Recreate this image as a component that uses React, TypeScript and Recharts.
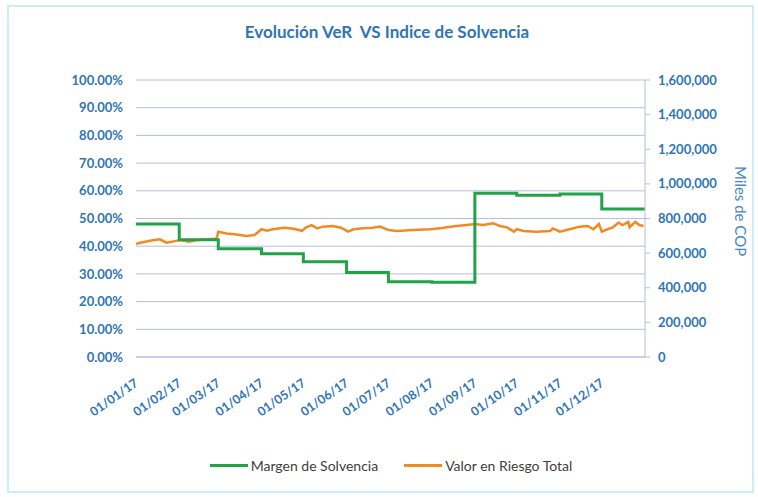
import React from 'react';
import { LineChart, Line, XAxis, YAxis, CartesianGrid, Legend } from 'recharts';

// month ticks (day of year 2017) and their labels
const monthStarts = [0, 31, 59, 90, 120, 151, 181, 212, 243, 273, 304, 334];
const monthLabels = [
  '01/01/17', '01/02/17', '01/03/17', '01/04/17', '01/05/17', '01/06/17',
  '01/07/17', '01/08/17', '01/09/17', '01/10/17', '01/11/17', '01/12/17',
];

// Margen de Solvencia (%), changes on the first of each month
const solvencyDays = [0, 31, 59, 90, 120, 151, 181, 212, 243, 273, 304, 334, 365];
const solvencyPct = [48.0, 42.3, 39.1, 37.3, 34.4, 30.5, 27.2, 27.0, 59.1, 58.4, 58.8, 53.4, 53.4];

// Valor en Riesgo Total (Miles de COP)
const riskDays = [
  0, 3, 10, 17, 22, 27, 32, 38, 44, 51, 57, 58, 59, 65, 72, 79, 85, 90, 94, 98,
  106, 113, 119, 122, 126, 130, 134, 141, 147, 152, 156, 163, 170, 175, 181, 187,
  199, 211, 218, 223, 230, 237, 243, 249, 256, 261, 266, 271, 273, 278, 287, 297,
  299, 304, 311, 318, 324, 328, 332, 334, 338, 342, 346, 349, 353, 354, 358, 361, 364,
];
const riskValues = [
  653000, 660000, 672000, 680000, 660000, 668000, 676000, 666000, 676000, 680000,
  683000, 690000, 724000, 714000, 708000, 699000, 705000, 738000, 729000, 738000,
  747000, 741000, 729000, 749000, 762000, 743000, 753000, 757000, 747000, 724000,
  738000, 743000, 747000, 753000, 734000, 728000, 734000, 738000, 743000, 749000,
  757000, 762000, 768000, 762000, 772000, 757000, 749000, 724000, 738000, 728000,
  724000, 728000, 743000, 724000, 738000, 753000, 757000, 738000, 768000, 724000,
  738000, 749000, 776000, 762000, 780000, 749000, 780000, 762000, 757000,
];

const pctTicks = [0, 10, 20, 30, 40, 50, 60, 70, 80, 90, 100];
const copTicks = [0, 200000, 400000, 600000, 800000, 1000000, 1200000, 1400000, 1600000];

const BLUE = '#2e75b6';
const GRID = '#b8bce0';
const FONT = 'Lato, "Open Sans", sans-serif';

const solvencyData = solvencyDays.map((d, i) => ({ day: d, pct: solvencyPct[i] }));
const riskData = riskDays.map((d, i) => ({ day: d, cop: riskValues[i] }));

const XTick = (props: any) => {
  const { x, y, payload } = props;
  const idx = monthStarts.indexOf(payload.value);
  const ax = x + 3;
  const ay = y + 28;
  return (
    <text
      x={ax}
      y={ay}
      transform={`rotate(-35, ${ax}, ${ay})`}
      textAnchor="end"
      fill={BLUE}
      fontSize={12.5}
      fontWeight={700}
      fontFamily={FONT}
    >
      {idx >= 0 ? monthLabels[idx] : ''}
    </text>
  );
};

const LegendBox = () => (
  <div
    style={{
      height: 60,
      display: 'flex',
      alignItems: 'center',
      justifyContent: 'center',
      paddingLeft: 24,
      fontFamily: FONT,
      fontSize: 14,
      color: '#404040',
    }}
  >
    <span style={{ display: 'inline-block', width: 38, height: 3, background: '#22a34a', marginRight: 3 }} />
    <span style={{ marginRight: 26 }}>Margen de Solvencia</span>
    <span style={{ display: 'inline-block', width: 38, height: 3, background: '#f28a24', marginRight: 3 }} />
    <span>Valor en Riesgo Total</span>
  </div>
);

const App: React.FC = () => {
  return (
    <div style={{ position: 'absolute', left: 0, top: 0, width: 758, height: 497, background: '#fff' }}>
      <div
        style={{
          position: 'absolute',
          left: 7,
          top: 5,
          width: 747,
          height: 488,
          border: '2px solid #c9eef7',
          boxSizing: 'border-box',
        }}
      />
      <div
        style={{
          position: 'absolute',
          top: 21,
          left: 0,
          width: 774,
          textAlign: 'center',
          whiteSpace: 'pre',
          fontFamily: FONT,
          fontWeight: 700,
          fontSize: 17,
          color: BLUE,
        }}
      >
        Evolución VeR  VS Indice de Solvencia
      </div>
      <div
        style={{
          position: 'absolute',
          left: 732,
          top: 166,
          writingMode: 'vertical-rl',
          fontFamily: FONT,
          fontSize: 15,
          color: '#4a86c5',
        }}
      >
        Miles de COP
      </div>
      <LineChart width={758} height={497} margin={{ top: 80, right: 0, bottom: 2, left: 0 }}>
        <CartesianGrid yAxisId="left" vertical={false} stroke={GRID} />
        <XAxis
          dataKey="day"
          type="number"
          domain={[0, 365]}
          ticks={monthStarts}
          interval={0}
          height={78}
          axisLine={{ stroke: GRID }}
          tickLine={false}
          tickSize={0}
          tickMargin={0}
          tick={XTick}
        />
        <YAxis
          yAxisId="left"
          width={136}
          domain={[0, 100]}
          ticks={pctTicks}
          interval={0}
          axisLine={false}
          tickLine={false}
          tickSize={0}
          tickMargin={13}
          tickFormatter={(v: number) => `${v.toFixed(2)}%`}
          tick={{ fill: BLUE, fontSize: 13, fontWeight: 700, fontFamily: FONT }}
        />
        <YAxis
          yAxisId="right"
          orientation="right"
          width={113}
          domain={[0, 1600000]}
          ticks={copTicks}
          interval={0}
          axisLine={{ stroke: GRID }}
          tickLine={{ stroke: GRID }}
          tickSize={5}
          tickMargin={8}
          tickFormatter={(v: number) => v.toLocaleString('en-US')}
          tick={{ fill: BLUE, fontSize: 13, fontWeight: 700, fontFamily: FONT, textAnchor: 'start' }}
        />
        <Legend verticalAlign="bottom" content={LegendBox} />
        <Line
          yAxisId="right"
          data={riskData}
          dataKey="cop"
          name="Valor en Riesgo Total"
          type="linear"
          stroke="#f28a24"
          strokeWidth={2.5}
          dot={false}
          isAnimationActive={false}
        />
        <Line
          yAxisId="left"
          data={solvencyData}
          dataKey="pct"
          name="Margen de Solvencia"
          type="stepAfter"
          stroke="#22a34a"
          strokeWidth={3}
          dot={false}
          isAnimationActive={false}
        />
      </LineChart>
    </div>
  );
};

export default App;
